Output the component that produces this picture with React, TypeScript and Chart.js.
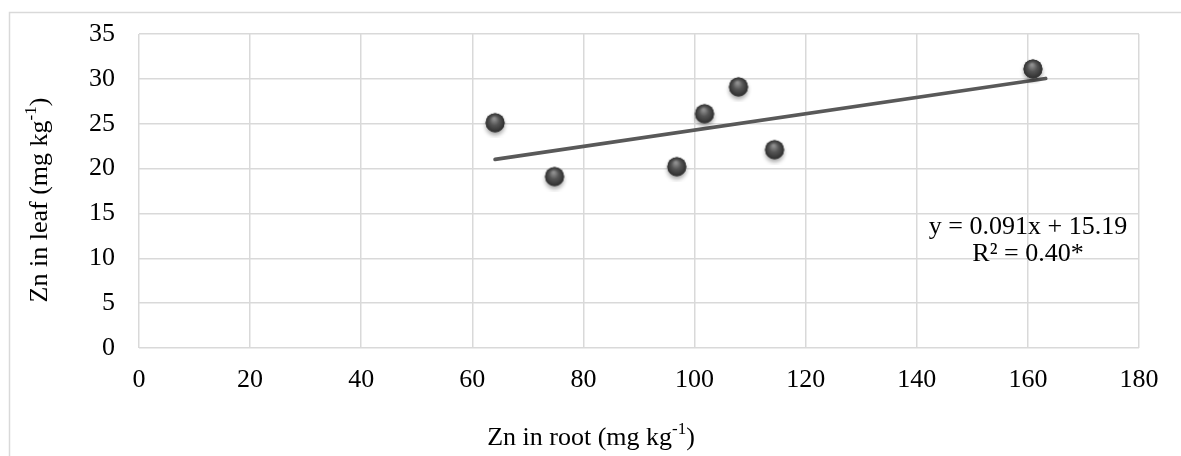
import React, { useEffect, useRef } from "react";
import { Chart, registerables } from "chart.js";

Chart.register(...registerables);

const rootZn = [64.1, 74.8, 96.8, 101.8, 107.9, 114.4, 160.9];
const leafZn = [25, 19, 20.1, 26, 29, 22, 31];
const trendSlope = 0.091;
const trendIntercept = 15.19;
const trendRange = [64.1, 163.2];
const equationLines = ["y = 0.091x + 15.19", "R² = 0.40*"];
const xTitle = ["Zn in root (mg kg", "-1", ")"];
const yTitle = ["Zn in leaf (mg kg", "-1", ")"];

const FONT = '"Liberation Serif", "Times New Roman", serif';
const FS = 26;
const SUPFS = 17;

function makeBall(): HTMLCanvasElement {
  const c = document.createElement("canvas");
  c.width = 28;
  c.height = 28;
  const g = c.getContext("2d")!;
  const cx = 14, cy = 13, r = 9.5;
  g.save();
  g.shadowColor = "rgba(0,0,0,0.35)";
  g.shadowBlur = 4;
  g.shadowOffsetY = 3;
  g.beginPath();
  g.arc(cx, cy, r, 0, Math.PI * 2);
  g.fillStyle = "#404040";
  g.fill();
  g.restore();
  const grad = g.createRadialGradient(cx - 1, cy - 4, 1, cx, cy, r);
  grad.addColorStop(0, "#8e8e8e");
  grad.addColorStop(0.45, "#555555");
  grad.addColorStop(1, "#2e2e2e");
  g.beginPath();
  g.arc(cx, cy, r, 0, Math.PI * 2);
  g.fillStyle = grad;
  g.fill();
  return c;
}

function drawText(ctx: CanvasRenderingContext2D, text: string, x: number, y: number, align: CanvasTextAlign) {
  ctx.save();
  ctx.font = `${FS}px ${FONT}`;
  ctx.textAlign = align;
  ctx.textBaseline = "middle";
  ctx.fillText(text, x, y);
  ctx.restore();
}

function drawSup(ctx: CanvasRenderingContext2D, parts: string[]) {
  ctx.font = `${FS}px ${FONT}`;
  const w0 = ctx.measureText(parts[0]).width;
  ctx.font = `${SUPFS}px ${FONT}`;
  const w1 = ctx.measureText(parts[1]).width;
  ctx.font = `${FS}px ${FONT}`;
  const w2 = ctx.measureText(parts[2]).width;
  const total = w0 + w1 + w2;
  let sx = -total / 2;
  ctx.textAlign = "left";
  ctx.textBaseline = "middle";
  ctx.font = `${FS}px ${FONT}`;
  ctx.fillText(parts[0], sx, 0);
  sx += w0;
  ctx.font = `${SUPFS}px ${FONT}`;
  ctx.fillText(parts[1], sx, -8);
  sx += w1;
  ctx.font = `${FS}px ${FONT}`;
  ctx.fillText(parts[2], sx, 0);
}

const extrasPlugin = {
  id: "extras",
  beforeDraw(chart: any) {
    const ctx = chart.ctx;
    ctx.save();
    ctx.fillStyle = "#ffffff";
    ctx.fillRect(0, 0, chart.width, chart.height);
    ctx.strokeStyle = "#d9d9d9";
    ctx.lineWidth = 1.5;
    ctx.strokeRect(9.5, 12.5, chart.width + 20, chart.height + 20);
    ctx.restore();
  },
  afterDraw(chart: any) {
    const ctx = chart.ctx;
    const xs = chart.scales.x;
    const ys = chart.scales.y;
    ctx.save();
    ctx.fillStyle = "#000000";
    for (const t of xs.ticks) {
      drawText(ctx, String(t.value), xs.getPixelForValue(t.value), chart.chartArea.bottom + 32, "center");
    }
    for (const t of ys.ticks) {
      drawText(ctx, String(t.value), chart.chartArea.left - 24, ys.getPixelForValue(t.value), "right");
    }
    ctx.save();
    ctx.translate(591, 438);
    drawSup(ctx, xTitle);
    ctx.restore();
    ctx.save();
    ctx.translate(40, 200);
    ctx.rotate(-Math.PI / 2);
    drawSup(ctx, yTitle);
    ctx.restore();
    drawText(ctx, equationLines[0], 1028, 227, "center");
    drawText(ctx, equationLines[1], 1028, 254, "center");
    ctx.restore();
  },
};

export default function App() {
  const ref = useRef<HTMLCanvasElement>(null);
  useEffect(() => {
    document.body.style.margin = "0";
    document.body.style.overflow = "hidden";
    const ball = makeBall();
    const points = rootZn.map((x, i) => ({ x, y: leafZn[i] }));
    const trend = trendRange.map((x) => ({ x, y: trendSlope * x + trendIntercept }));
    const chart = new Chart(ref.current!, {
      type: "scatter",
      data: {
        datasets: [
          {
            type: "line",
            data: trend,
            borderColor: "#595959",
            borderWidth: 3.75,
            pointRadius: 0,
            borderCapStyle: "round",
            showLine: true,
            order: 2,
          } as any,
          {
            data: points,
            pointStyle: ball as any,
            pointRadius: 10,
            order: 1,
          },
        ],
      },
      plugins: [extrasPlugin],
      options: {
        animation: false,
        responsive: false,
        events: [],
        layout: { padding: { left: 0, right: 42, top: 34, bottom: 0 } },
        plugins: { legend: { display: false }, tooltip: { enabled: false } },
        scales: {
          x: {
            type: "linear",
            min: 0,
            max: 180,
            ticks: { stepSize: 20, display: false },
            grid: { color: "#d9d9d9", lineWidth: 1.5, drawTicks: false },
            border: { display: false },
            afterFit: (s: any) => { s.height = 108; },
          },
          y: {
            min: 0,
            max: 35,
            ticks: { stepSize: 5, display: false },
            grid: { color: "#d9d9d9", lineWidth: 1.5, drawTicks: false },
            border: { display: false },
            afterFit: (s: any) => { s.width = 139; },
          },
        },
      },
    } as any);
    return () => chart.destroy();
  }, []);
  return (
    <div style={{ width: 1181, height: 456 }}>
      <canvas ref={ref} width={1181} height={456} style={{ display: "block" }} />
    </div>
  );
}
